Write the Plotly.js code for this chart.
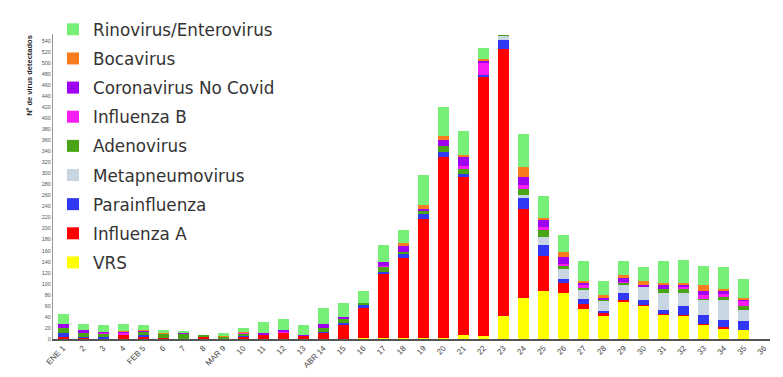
<!DOCTYPE html>
<html>
<head>
<meta charset="utf-8">
<script src="https://cdn.plot.ly/plotly-3.0.1.min.js"></script>
<style>
html,body{margin:0;padding:0;background:#fff;}
#chart{width:783px;height:377px;}
</style>
</head>
<body>
<div id="chart"></div>
<script>
const weeks = ['ENE 1','2','3','4','FEB 5','6','7','8','MAR 9','10','11','12','13','ABR 14','15','16','17','18','19','20','21','22','23','24','25','26','27','28','29','30','31','32','33','34','35','36'];

const vrs    = [0,0,0,0,0,0,0,0,0,0,0,0,0,0,0,1,1,1,1,2,8,6,41,75,87,84,55,41,67,60,43,42,26,19,16,0];
const fluA   = [4,1,0,7,4,1,0,3,0,3,8,10,6,10,26,56,117,146,217,328,286,468,483,161,63,17,9,6,3,1,3,2,2,2,1,0];
const para   = [7,2,3,1,4,0,0,0,0,3,0,1,0,3,3,4,4,7,8,9,5,4,17,19,21,8,8,4,13,9,6,15,16,13,16,0];
const meta   = [0,0,0,0,0,0,0,0,0,0,0,0,0,0,0,0,0,0,0,0,0,0,7,5,13,17,16,17,15,24,31,25,26,36,19,0];
const adeno  = [9,7,6,0,4,8,9,4,3,3,0,0,0,7,8,4,8,4,5,10,8,0,3,12,13,6,4,3,3,0,8,7,3,6,7,0];
const fluB   = [0,1,1,2,0,0,0,0,0,1,0,1,0,0,0,0,2,0,0,0,7,22,0,7,6,4,6,0,3,0,0,3,6,5,10,0];
const corona = [8,6,2,3,3,0,1,0,0,0,3,4,1,8,2,0,8,11,5,11,15,4,0,15,13,12,4,3,7,4,6,4,8,6,2,0];
const boca   = [0,0,1,1,1,2,0,0,3,2,0,0,0,0,1,0,0,4,6,7,4,3,0,17,3,9,3,6,4,7,4,3,10,4,4,0];
const rino   = [17,11,13,14,9,6,5,1,4,8,19,20,18,28,26,22,31,24,55,52,43,19,0,60,39,32,36,25,27,26,40,42,36,40,34,0];

const seriesNames = ['VRS','Influenza A','Parainfluenza','Metapneumovirus','Adenovirus','Influenza B','Coronavirus No Covid','Bocavirus','Rinovirus/Enterovirus'];
const seriesValues = [vrs, fluA, para, meta, adeno, fluB, corona, boca, rino];
const seriesColors = ['#FFFF00','#FF0000','#3038F4','#C8D6E4','#49A515','#F81CF2','#A000F0','#FA7A1E','#78F078'];

const yTicks = [];
for (let v = 0; v <= 540; v += 20) yTicks.push(v);

const traces = seriesNames.map((n, i) => ({
  type: 'bar',
  name: n,
  x: weeks,
  y: seriesValues[i],
  legendgroup: 'g' + i,
  legendrank: seriesNames.length - i,
  marker: {color: seriesColors[i], line: {width: 0}},
  hoverinfo: 'x+y+name'
}));

const layout = {
  width: 783, height: 377,
  margin: {l: 53, r: 13, t: 17, b: 38},
  paper_bgcolor: '#fff', plot_bgcolor: '#fff',
  barmode: 'stack',
  bargap: 0.45,
  showlegend: true,
  legend: {
    x: 0.0, y: 1.0725, xanchor: 'left', yanchor: 'top',
    traceorder: 'grouped',
    tracegroupgap: 4.3,
    maxheight: 377,
    font: {family: 'DejaVu Sans, sans-serif', size: 16.8, color: '#333'},
    bgcolor: 'rgba(0,0,0,0)'
  },
  xaxis: {
    type: 'category',
    range: [-0.5, 35.3],
    tickangle: -45,
    tickfont: {family: 'Liberation Sans, Arial, sans-serif', size: 8, color: '#444'},
    showline: true, linecolor: '#555', linewidth: 1.5,
    showgrid: false, ticks: '', zeroline: false
  },
  yaxis: {
    range: [0, 552],
    tickvals: yTicks,
    ticktext: yTicks.map(String),
    tickfont: {family: 'Liberation Sans, Arial, sans-serif', size: 5.5, color: '#555'},
    showline: true, linecolor: '#999', linewidth: 1,
    showgrid: false, zeroline: false, ticks: '', ticklen: 0
  },
  annotations: [{
    text: '<b>Nº de virus detectados</b>',
    xref: 'paper', yref: 'paper',
    x: -0.032, y: 0.863,
    xanchor: 'center', yanchor: 'middle',
    textangle: -90, showarrow: false,
    font: {family: 'Liberation Sans, Arial, sans-serif', size: 7.5, color: '#222'}
  }]
};

Plotly.newPlot('chart', traces, layout, {displayModeBar: false, staticPlot: true});
</script>
</body>
</html>
